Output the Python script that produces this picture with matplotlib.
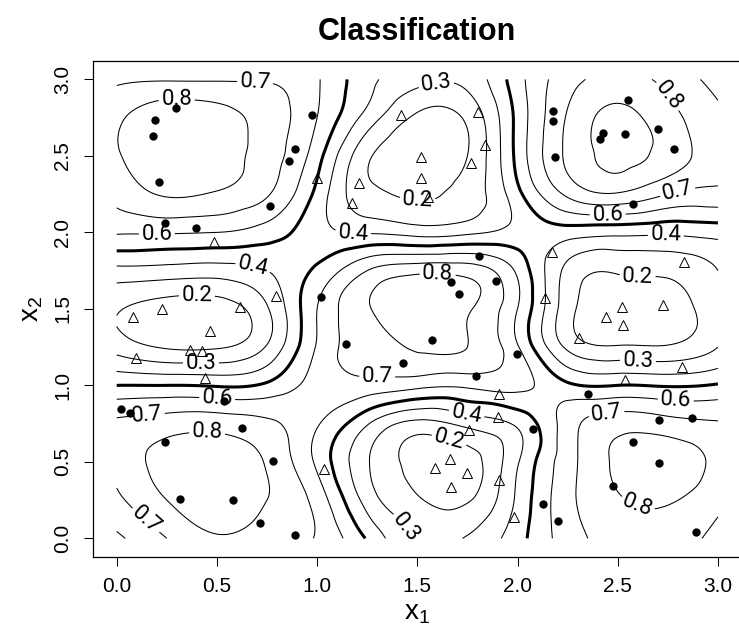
import numpy as np
import matplotlib
matplotlib.use("Agg")
import matplotlib.pyplot as plt
import matplotlib.tri as mtri

plt.rcParams['font.family'] = ['Liberation Sans', 'DejaVu Sans']
plt.rcParams['mathtext.default'] = 'regular'

# fitted class probability on a 0.25 grid
grid_x = [0.0, 0.25, 0.5, 0.75, 1.0, 1.25, 1.5, 1.75, 2.0, 2.25, 2.5, 2.75, 3.0]
grid_y = [0.0, 0.25, 0.5, 0.75, 1.0, 1.25, 1.5, 1.75, 2.0, 2.25, 2.5, 2.75, 3.0]
prob = [
    [0.58, 0.70, 0.79, 0.76, 0.69, 0.49, 0.29, 0.31, 0.46, 0.65, 0.75, 0.76, 0.66],  # y=0.00
    [0.68, 0.80, 0.86, 0.80, 0.66, 0.36, 0.21, 0.19, 0.42, 0.67, 0.79, 0.81, 0.73],  # y=0.25
    [0.73, 0.84, 0.87, 0.79, 0.58, 0.31, 0.16, 0.15, 0.39, 0.66, 0.82, 0.86, 0.77],  # y=0.50
    [0.72, 0.75, 0.76, 0.72, 0.61, 0.41, 0.27, 0.33, 0.42, 0.65, 0.76, 0.74, 0.71],  # y=0.75
    [0.50, 0.50, 0.49, 0.52, 0.64, 0.66, 0.63, 0.62, 0.63, 0.52, 0.50, 0.49, 0.51],  # y=1.00
    [0.26, 0.19, 0.19, 0.31, 0.61, 0.76, 0.81, 0.80, 0.61, 0.28, 0.21, 0.21, 0.30],  # y=1.25
    [0.21, 0.15, 0.15, 0.29, 0.60, 0.79, 0.87, 0.81, 0.60, 0.24, 0.14, 0.15, 0.27],  # y=1.50
    [0.37, 0.36, 0.35, 0.40, 0.52, 0.70, 0.77, 0.76, 0.58, 0.27, 0.21, 0.22, 0.30],  # y=1.75
    [0.61, 0.61, 0.60, 0.55, 0.44, 0.39, 0.36, 0.38, 0.44, 0.45, 0.43, 0.42, 0.44],  # y=2.00
    [0.73, 0.81, 0.79, 0.71, 0.47, 0.23, 0.19, 0.24, 0.47, 0.72, 0.79, 0.70, 0.67],  # y=2.25
    [0.79, 0.87, 0.85, 0.75, 0.54, 0.22, 0.13, 0.20, 0.53, 0.82, 0.925, 0.86, 0.73],  # y=2.50
    [0.78, 0.86, 0.84, 0.76, 0.60, 0.36, 0.18, 0.22, 0.53, 0.81, 0.925, 0.84, 0.72],  # y=2.75
    [0.68, 0.69, 0.69, 0.69, 0.61, 0.43, 0.34, 0.33, 0.56, 0.76, 0.83, 0.77, 0.66],  # y=3.00
]

# training points, class 1 (dots)
class1_x = [0.298, 0.190, 0.181, 0.211, 0.972, 0.889, 0.860, 0.764, 0.241, 0.394,
            2.553, 2.175, 2.175, 2.187, 2.425, 2.411, 2.536, 2.699, 2.782, 2.578,
            1.809, 1.017, 1.666, 1.709, 1.892, 1.143, 1.571, 1.430, 1.995, 1.792,
            0.020, 0.065, 0.536, 0.626, 0.241, 0.780, 0.315, 0.581, 0.717, 0.889,
            2.078, 2.350, 2.707, 2.869, 2.575, 2.706, 2.475, 2.128, 2.203, 2.889]
class1_y = [2.814, 2.734, 2.629, 2.329, 2.767, 2.542, 2.466, 2.172, 2.063, 2.026,
            2.865, 2.795, 2.730, 2.492, 2.651, 2.610, 2.643, 2.675, 2.544, 2.185,
            1.845, 1.579, 1.677, 1.595, 1.682, 1.268, 1.296, 1.144, 1.205, 1.061,
            0.843, 0.817, 0.897, 0.720, 0.627, 0.507, 0.255, 0.250, 0.098, 0.022,
            0.712, 0.941, 0.773, 0.788, 0.629, 0.494, 0.342, 0.222, 0.115, 0.043]

# training points, class 0 (triangles)
class0_x = [1.000, 1.421, 1.801, 1.837, 1.767, 1.516, 1.516, 1.210, 1.172, 1.554,
            0.486, 0.797, 0.081, 0.226, 0.614, 0.464, 0.364, 0.426, 0.098, 0.443,
            2.173, 2.831, 2.137, 2.520, 2.724, 2.441, 2.528, 2.308, 2.819, 2.536,
            1.910, 1.904, 1.759, 1.662, 1.588, 1.746, 1.666, 1.907, 1.035, 1.982]
class0_y = [2.353, 2.766, 2.788, 2.571, 2.455, 2.494, 2.353, 2.324, 2.190, 2.233,
            1.939, 1.584, 1.448, 1.497, 1.514, 1.357, 1.231, 1.226, 1.176, 1.046,
            1.870, 1.808, 1.573, 1.514, 1.525, 1.448, 1.394, 1.307, 1.122, 1.035,
            0.943, 0.793, 0.708, 0.516, 0.458, 0.429, 0.333, 0.381, 0.451, 0.137]

thin_levels = [0.1, 0.2, 0.3, 0.4, 0.6, 0.7, 0.8, 0.9]
label_spots = [(0.69, 2.96), (0.30, 2.80), (1.60, 2.93), (1.50, 2.19), (1.18, 2.02),
               (2.74, 2.88), (2.80, 2.26), (2.45, 2.11), (2.74, 1.96), (0.20, 1.95),
               (0.68, 1.775), (0.40, 1.61), (0.42, 1.11), (1.60, 1.64), (1.30, 1.06),
               (2.60, 1.75), (2.60, 1.14), (0.50, 0.89), (0.15, 0.81), (0.45, 0.66),
               (0.16, 0.14), (1.75, 0.84), (1.65, 0.59), (1.47, 0.10), (2.79, 0.915),
               (2.45, 0.75), (2.60, 0.22)]

# smooth surface through the read grid
gx, gy = np.meshgrid(grid_x, grid_y)
tri = mtri.Triangulation(gx.ravel(), gy.ravel())
interp = mtri.CubicTriInterpolator(tri, np.array(prob).ravel(), kind='min_E')
fx = np.linspace(1e-6, 3 - 1e-6, 241)
FX, FY = np.meshgrid(fx, fx)
FZ = interp(FX, FY)

fig = plt.figure(figsize=(7.39, 6.35), dpi=100)
ax = fig.add_axes([0.1254, 0.1233, 0.8786, 0.7806])

cs = ax.contour(FX, FY, FZ, levels=thin_levels, colors='black', linewidths=0.75)
ax.contour(FX, FY, FZ, levels=[0.5], colors='black', linewidths=2.2)
labels = ax.clabel(cs, fmt='%.1f', fontsize=16, inline=True, inline_spacing=4,
                   manual=label_spots)
for t in labels:
    t.set_fontfamily(['Roboto', 'DejaVu Sans'])
    t.set_color('black')

ax.plot(class1_x, class1_y, 'o', color='black', markersize=6, markeredgewidth=0)
ax.plot(class0_x, class0_y, '^', markerfacecolor='none', markeredgecolor='black',
        markersize=7.5, markeredgewidth=0.7)

ax.set_xlim(-0.12, 3.12)
ax.set_ylim(-0.12, 3.12)
ax.set_xticks([0.0, 0.5, 1.0, 1.5, 2.0, 2.5, 3.0])
ax.set_yticks([0.0, 0.5, 1.0, 1.5, 2.0, 2.5, 3.0])
ax.set_xticklabels(['0.0', '0.5', '1.0', '1.5', '2.0', '2.5', '3.0'])
ax.set_yticklabels(['0.0', '0.5', '1.0', '1.5', '2.0', '2.5', '3.0'],
                   rotation=90, va='center')
ax.tick_params(direction='out', length=6.8, width=0.75, labelsize=15, pad=8)
for sp in ax.spines.values():
    sp.set_linewidth(0.9)

ax.set_xlabel('$x_1$', fontsize=20, labelpad=3)
ax.set_ylabel('$x_2$', fontsize=20, labelpad=6)
ax.set_title('Classification', fontsize=22, fontweight='bold', pad=15)

fig.savefig('out.png', dpi=100)
